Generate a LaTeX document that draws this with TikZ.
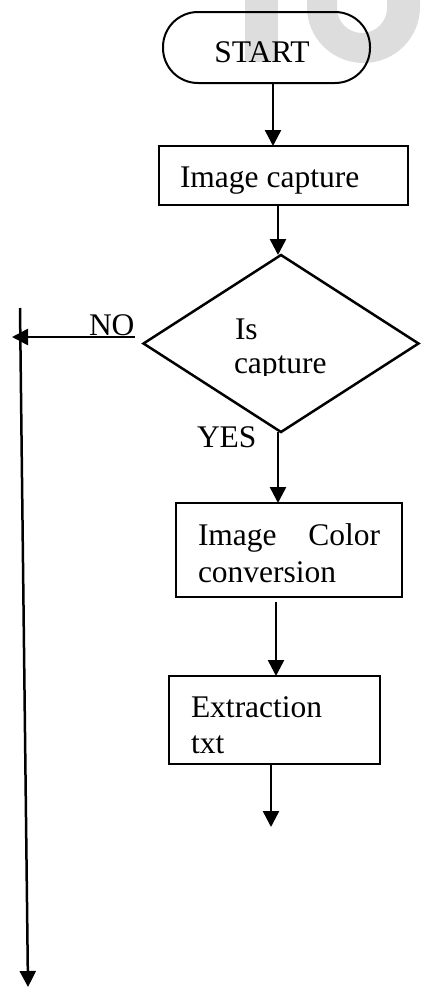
\documentclass[tikz,border=0pt]{standalone}
\usepackage{fontspec}
\setmainfont{Liberation Serif}
\usetikzlibrary{arrows.meta,shapes.geometric,calc}
\definecolor{wmgray}{RGB}{221,221,221}
\tikzset{
  every node/.style={font=\fontsize{31.5pt}{37pt}\selectfont, inner sep=0pt, outer sep=0pt},
  terminal/.style={draw, line width=2pt, rounded corners=35pt, rectangle},
  procbox/.style={draw, line width=2.7pt, rectangle},
  decision/.style={draw, line width=2.5pt, diamond},
  label/.style={anchor=base west},
  arr/.style={line width=2.5pt, -{Triangle[length=16pt,width=16pt]}}
}
\begin{document}
\begin{tikzpicture}[x=1pt,y=-1pt]
\useasboundingbox (0,0) rectangle (422,991);

% background watermark letters
\fill[wmgray] (245,0) rectangle (278,62);
\fill[wmgray] (307,0) -- (307,7)
  arc[start angle=180, end angle=0, x radius=56.5, y radius=56]
  -- (420,0) -- (387,0) -- (387,8)
  arc[start angle=0, end angle=180, radius=25]
  -- (337,0) -- cycle;

% shapes
\node[terminal, minimum width=207pt, minimum height=71pt] (start) at (266.5,47.5) {};
\node[anchor=base] (startTxt) at (262,62) {START};

\node[procbox, minimum width=249pt, minimum height=59pt] (cap) at (283.5,175.5) {};
\node[label] (capTxt) at (180,187) {Image capture};

\node[decision, minimum width=275pt, minimum height=177pt] (dec) at (281,343.5) {};
\begin{scope}
  \clip (0,0) rectangle (422,375);
  \node[label] (decTxtA) at (235,339) {Is};
  \node[label] (decTxtB) at (234,373) {capture};
\end{scope}

\node[procbox, minimum width=226pt, minimum height=94pt] (color) at (289,550) {};
\node[label, text width=182pt, align=left] (colorTxtA) at (198,545) {Image\hfill Color};
\node[label] (colorTxtB) at (198,582) {conversion};

\node[procbox, minimum width=211pt, minimum height=88pt] (ext) at (274.5,720) {};
\node[label] (extTxtA) at (191,717) {Extraction};
\node[label] (extTxtB) at (191,753) {txt};

% branch labels
\node[label] (no) at (89,335) {NO};
\node[label] (yes) at (197,447) {YES};

% free ends of the loose connectors
\coordinate (noStart) at (135,337);
\coordinate (noEnd) at (12,337);
\coordinate (loopTop) at (20,308);
\coordinate (loopEnd) at (28,987);
\coordinate (extEnd) at (271,827);

% connectors
\draw[arr] ([xshift=6.5pt]start.south) -- ([xshift=6.5pt]start.south |- cap.north);
\draw[arr] ([xshift=-3pt]dec.north |- cap.south) -- ([xshift=-3pt]dec.north);
\draw[arr] ([xshift=-3pt]dec.south) -- ([xshift=-3pt]dec.south |- color.north);
\draw[arr] ($(ext.north |- color.south)+(1.5,5)$) -- ([xshift=1.5pt]ext.north);
\draw[arr] (ext.south -| extEnd) -- (extEnd);
\draw[arr] (noStart) -- (noEnd);
\draw[arr] (loopTop) -- (loopEnd);
\end{tikzpicture}
\end{document}
